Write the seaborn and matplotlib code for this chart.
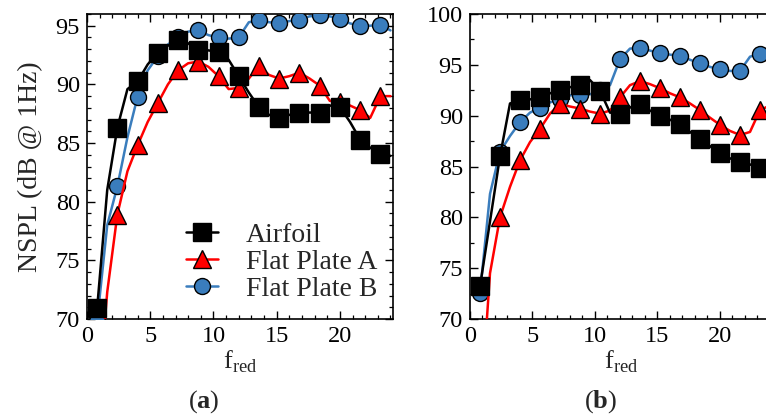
import numpy as np
import pandas as pd
import matplotlib
matplotlib.use("Agg")
import matplotlib.pyplot as plt
import seaborn as sns
from matplotlib.ticker import MultipleLocator

sns.set_theme(style="white")
plt.rcParams['font.family'] = ['Liberation Serif', 'DejaVu Serif']
plt.rcParams['mathtext.fontset'] = 'custom'
plt.rcParams['mathtext.rm'] = 'Liberation Serif'
plt.rcParams['mathtext.bf'] = 'Liberation Serif:bold'

# reduced frequency samples (lines); markers on every other sample
f_red = [0.8, 1.6, 2.4, 3.2, 4.0, 4.8, 5.6, 6.4, 7.2, 8.0, 8.8, 9.6, 10.4, 11.2, 12.0,
         12.8, 13.6, 14.4, 15.2, 16.0, 16.8, 17.6, 18.4, 19.2, 20.0, 20.8, 21.6, 22.4, 23.2, 24.0]

# panel (a)
a_airfoil = [70.9, 81.0, 86.3, 89.6, 90.25, 91.7, 92.7, 93.3, 93.75, 93.5, 92.9, 92.9, 92.75, 92.1, 90.7,
             89.3, 88.05, 87.4, 87.15, 87.4, 87.6, 87.6, 87.6, 88.2, 88.05, 86.8, 85.3, 84.6, 84.1, 83.9]
a_plate_a = [62.0, 72.3, 78.9, 82.6, 84.8, 86.8, 88.4, 90.0, 91.2, 91.8, 91.95, 91.5, 90.7, 89.6, 89.7,
             90.5, 91.6, 90.8, 90.5, 90.7, 91.0, 90.5, 89.9, 88.6, 88.5, 88.2, 87.8, 87.15, 89.0, 89.0]
a_plate_b = [69.8, 78.0, 81.3, 85.5, 88.95, 91.2, 92.4, 93.4, 94.0, 94.5, 94.6, 94.2, 94.0, 93.9, 94.0,
             95.3, 95.45, 95.3, 95.2, 95.4, 95.5, 95.8, 95.9, 95.8, 95.6, 95.2, 95.0, 95.0, 95.1, 94.6]

# panel (b)
b_airfoil = [73.2, 79.6, 86.0, 91.2, 91.5, 91.6, 91.8, 92.2, 92.5, 92.8, 93.0, 93.5, 92.45, 90.3, 90.2,
             90.8, 91.15, 90.5, 90.0, 89.6, 89.15, 88.4, 87.7, 87.0, 86.3, 85.8, 85.45, 85.2, 84.9, 84.7]
b_plate_a = [60.0, 74.5, 80.0, 83.0, 85.6, 87.4, 88.7, 90.2, 91.15, 90.9, 90.7, 90.4, 90.2, 90.5, 91.8,
             93.0, 93.4, 93.1, 92.7, 92.2, 91.8, 91.2, 90.55, 89.8, 89.1, 88.5, 88.1, 88.4, 90.55, 91.0]
b_plate_b = [72.55, 82.3, 86.45, 88.0, 89.35, 90.3, 90.8, 91.3, 91.65, 92.0, 92.05, 92.1, 92.5, 93.0, 95.55,
             96.6, 96.65, 96.4, 96.15, 96.0, 95.9, 95.5, 95.15, 94.8, 94.55, 94.4, 94.4, 95.8, 96.1, 96.2]

labels = ["Airfoil", "Flat Plate A", "Flat Plate B"]
colors = ["black", "#ff0000", "#3a7dbd"]
markers = ["s", "^", "o"]
msizes = [12.5, 13, 11.5]

fig = plt.figure(figsize=(7.66, 4.17), dpi=100)
W, H = 766, 417
ax_a = fig.add_axes([87 / W, (H - 319) / H, 306 / W, 305 / H])
ax_b = fig.add_axes([470 / W, (H - 319) / H, 302.5 / W, 305 / H])

def draw(ax, series, ylim, ymin_step, right_ticks):
    order = [2, 1, 0]  # blue under red under black
    for i in order:
        df = pd.DataFrame({"f": f_red, "v": series[i]})
        sns.lineplot(data=df, x="f", y="v", ax=ax, color=colors[i], lw=1.8,
                     marker=markers[i], markersize=msizes[i], markevery=2,
                     markerfacecolor=colors[i], markeredgecolor="black",
                     markeredgewidth=1.0, estimator=None, sort=False,
                     zorder=3 + (2 - i), legend=False)
    ax.set_xlim(0, 24.2)
    ax.set_ylim(*ylim)
    ax.xaxis.set_major_locator(MultipleLocator(5))
    ax.xaxis.set_minor_locator(MultipleLocator(1))
    ax.yaxis.set_major_locator(MultipleLocator(5))
    ax.yaxis.set_minor_locator(MultipleLocator(ymin_step))
    ax.tick_params(which="both", direction="in", top=True, right=right_ticks, left=True, bottom=True,
                   colors="black", labelsize=17.5)
    ax.tick_params(which="major", length=6, width=1.0, pad=5)
    ax.tick_params(which="minor", length=3, width=0.9)
    for s in ax.spines.values():
        s.set_color("black")
        s.set_linewidth(1.2)
    ax.set_xlabel(r"f$_{\mathrm{red}}$", fontsize=19, labelpad=1)
    ax.set_ylabel("")
    ax.grid(False)

draw(ax_a, [a_airfoil, a_plate_a, a_plate_b], (70, 96), 1, True)
draw(ax_b, [b_airfoil, b_plate_a, b_plate_b], (70, 100), 2.5, False)

ax_a.set_ylabel("NSPL (dB @ 1Hz)", fontsize=20, labelpad=9)

proxies = [ax_a.plot([], [], color=colors[i], lw=1.8, marker=markers[i], markersize=msizes[i],
                     markerfacecolor=colors[i], markeredgecolor="black", markeredgewidth=1.0)[0]
           for i in range(3)]
ax_a.legend(proxies, labels, loc="lower right", frameon=False, fontsize=20,
            numpoints=1, handlelength=1.15, handletextpad=1.0, labelspacing=0.05,
            bbox_to_anchor=(1.03, -0.025))

fig.text(204 / W, 1 - 402 / H, r"($\mathbf{a}$)", ha="center", va="center", fontsize=19)
fig.text(601 / W, 1 - 402 / H, r"($\mathbf{b}$)", ha="center", va="center", fontsize=19)

fig.savefig("out.png", dpi=100, facecolor="white")
